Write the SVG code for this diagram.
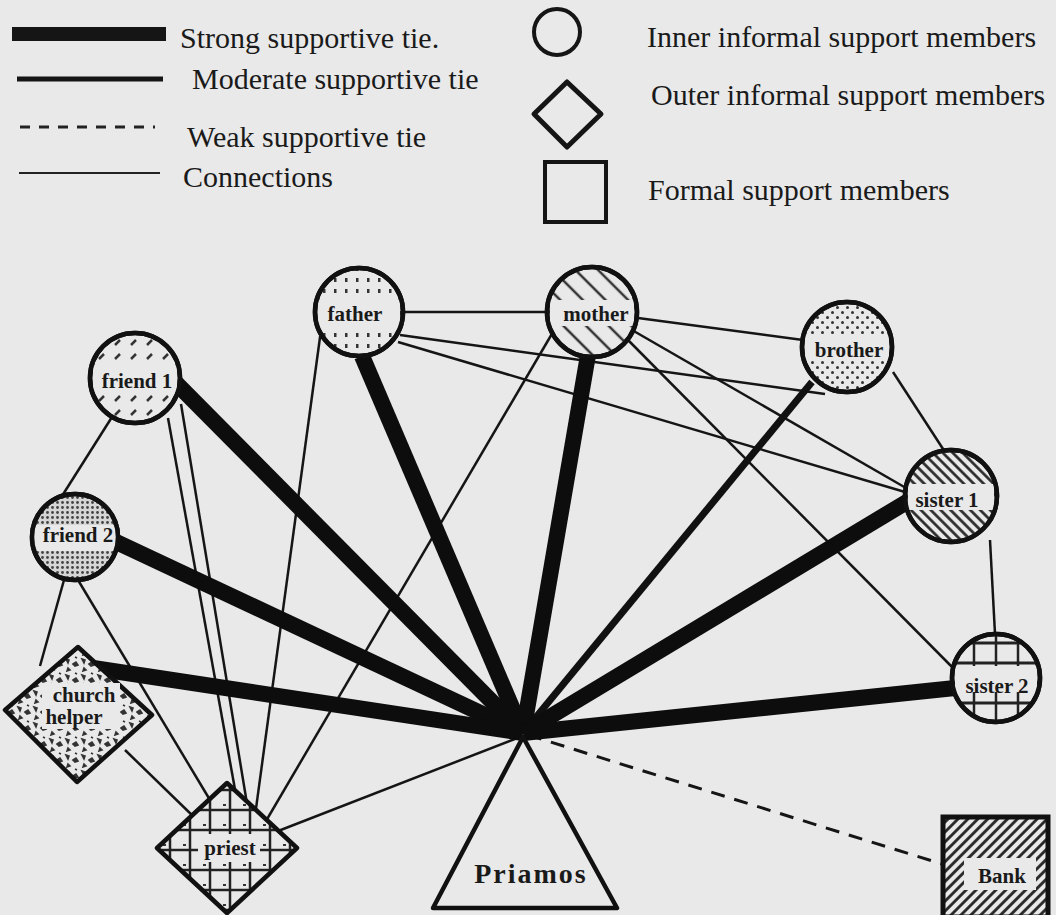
<svg xmlns="http://www.w3.org/2000/svg" width="1056" height="915" viewBox="0 0 1056 915">
<style>
.bg{fill:#e9e9e9}
.legend{font-family:"Liberation Serif",serif;font-size:30px;fill:#1a1a1a}
.lbl{font-family:"Liberation Serif",serif;font-size:21px;font-weight:bold;fill:#1a1a1a;text-anchor:middle}
.node{stroke:#111;stroke-width:4.5}
.band{fill:#e9e9e9}
.strong{stroke:#0d0d0d;stroke-width:16;stroke-linecap:butt;fill:none}
.moderate{stroke:#111;stroke-width:7;fill:none}
.conn{stroke:#151515;stroke-width:2.5;fill:none}
.weak{stroke:#151515;stroke-width:3;stroke-dasharray:14 10;fill:none}
</style>
<defs>
<pattern id="pFather" width="11" height="11" patternUnits="userSpaceOnUse"><rect width="11" height="11" fill="#e9e9e9"/><rect x="4" y="3" width="2.5" height="4" fill="#333"/></pattern>
<pattern id="pMother" width="16" height="16" patternUnits="userSpaceOnUse" patternTransform="rotate(45)"><rect width="16" height="16" fill="#e9e9e9"/><line x1="0" y1="8" x2="16" y2="8" stroke="#333" stroke-width="2.5"/></pattern>
<pattern id="pFriend1" width="16" height="14" patternUnits="userSpaceOnUse"><rect width="16" height="14" fill="#e9e9e9"/><line x1="3" y1="9" x2="8" y2="4" stroke="#333" stroke-width="2.5"/></pattern>
<pattern id="pFriend2" width="5" height="5" patternUnits="userSpaceOnUse"><rect width="5" height="5" fill="#d6d6d6"/><circle cx="2.5" cy="2.5" r="1.4" fill="#444"/></pattern>
<pattern id="pBrother" width="10" height="10" patternUnits="userSpaceOnUse"><rect width="10" height="10" fill="#e9e9e9"/><circle cx="2.5" cy="2.5" r="1.5" fill="#333"/><circle cx="7.5" cy="7.5" r="1.5" fill="#333"/></pattern>
<pattern id="pSister1" width="7" height="7" patternUnits="userSpaceOnUse" patternTransform="rotate(45)"><rect width="7" height="7" fill="#e9e9e9"/><line x1="0" y1="3.5" x2="7" y2="3.5" stroke="#222" stroke-width="2.6"/></pattern>
<pattern id="pSister2" width="22" height="20" patternUnits="userSpaceOnUse"><rect width="22" height="20" fill="#e9e9e9"/><line x1="0" y1="3" x2="22" y2="3" stroke="#222" stroke-width="3"/><line x1="6" y1="0" x2="6" y2="20" stroke="#222" stroke-width="2.5"/></pattern>
<pattern id="pChurch" width="16" height="16" patternUnits="userSpaceOnUse"><rect width="16" height="16" fill="#e9e9e9"/><path d="M2 3l3 1-1 3zM9 8l3-2 2 3-3 1zM4 12l2 2-3 1zM11 1l2 1" stroke="#333" stroke-width="1.6" fill="#333"/></pattern>
<pattern id="pPriest" width="20" height="20" patternUnits="userSpaceOnUse"><rect width="20" height="20" fill="#e9e9e9"/><line x1="0" y1="10" x2="20" y2="10" stroke="#222" stroke-width="2.5"/><line x1="10" y1="0" x2="10" y2="20" stroke="#222" stroke-width="2.5"/><rect x="3" y="4" width="3" height="2" fill="#333"/></pattern>
<pattern id="pBank" width="7" height="7" patternUnits="userSpaceOnUse" patternTransform="rotate(-45)"><rect width="7" height="7" fill="#e9e9e9"/><line x1="0" y1="3.5" x2="7" y2="3.5" stroke="#222" stroke-width="2.8"/></pattern>
</defs>
<rect class="bg" x="0" y="0" width="1056" height="915"/>

<g id="legend">
<rect x="12" y="27" width="154" height="14" fill="#151515"/>
<text class="legend" x="180" y="48">Strong supportive tie.</text>
<line x1="17" y1="79" x2="163" y2="79" stroke="#151515" stroke-width="5"/>
<text class="legend" x="192" y="89">Moderate supportive tie</text>
<line x1="20" y1="127" x2="155" y2="127" stroke="#222" stroke-width="3" stroke-dasharray="10 9"/>
<text class="legend" x="187" y="147">Weak supportive tie</text>
<line x1="19" y1="173" x2="160" y2="173" stroke="#222" stroke-width="2"/>
<text class="legend" x="183" y="187">Connections</text>
<circle cx="557" cy="32" r="23" fill="none" stroke="#151515" stroke-width="4"/>
<text class="legend" x="647" y="47">Inner informal support members</text>
<polygon points="567,82 601,114 567,147 534,114" fill="none" stroke="#151515" stroke-width="5" stroke-linejoin="round"/>
<text class="legend" x="651" y="105">Outer informal support members</text>
<rect x="545" y="162" width="61" height="60" fill="none" stroke="#151515" stroke-width="4"/>
<text class="legend" x="648" y="200">Formal support members</text>
</g>

<g id="connectors">
<line class="conn" x1="404" y1="312" x2="548" y2="312"/>
<line class="conn" x1="321" y1="330" x2="252" y2="838"/>
<line class="conn" x1="553" y1="332" x2="256" y2="838"/>
<line class="conn" x1="112" y1="417" x2="62" y2="496"/>
<line class="conn" x1="168" y1="418" x2="236" y2="795"/>
<line class="conn" x1="181" y1="404" x2="252" y2="834"/>
<line class="conn" x1="64" y1="580" x2="40" y2="666"/>
<line class="conn" x1="78" y1="580" x2="210" y2="800"/>
<line class="conn" x1="125" y1="750" x2="195" y2="818"/>
<line class="conn" x1="638" y1="318" x2="803" y2="340"/>
<line class="conn" x1="632" y1="330" x2="906" y2="488"/>
<line class="conn" x1="628" y1="340" x2="957" y2="672"/>
<line class="conn" x1="400" y1="335" x2="825" y2="394"/>
<line class="conn" x1="398" y1="342" x2="905" y2="492"/>
<line class="conn" x1="893" y1="372" x2="945" y2="452"/>
<line class="conn" x1="990" y1="540" x2="995" y2="634"/>
<line class="conn" x1="255" y1="840" x2="520" y2="737" stroke-width="3.5"/>
<line class="weak" x1="528" y1="735" x2="942" y2="864"/>
<line class="moderate" x1="523" y1="733" x2="812" y2="382"/>
<line class="strong" x1="523" y1="733" x2="176" y2="383"/>
<line class="strong" x1="523" y1="733" x2="362" y2="356"/>
<line class="strong" x1="523" y1="733" x2="588" y2="355"/>
<line class="strong" x1="523" y1="733" x2="910" y2="500"/>
<line class="strong" x1="523" y1="733" x2="112" y2="540"/>
<line class="strong" x1="523" y1="733" x2="80" y2="666"/>
<line class="strong" x1="523" y1="733" x2="955" y2="688"/>
</g>

<g id="node-father">
<circle class="node" cx="359" cy="312" r="44" fill="url(#pFather)"/>
<rect class="band" x="318" y="300" width="82" height="26"/>
<circle cx="359" cy="312" r="44" fill="none" class="node"/>
<text class="lbl" x="355" y="321">father</text>
</g>
<g id="node-mother">
<circle class="node" cx="592" cy="312" r="45" fill="url(#pMother)"/>
<rect class="band" x="550" y="300" width="84" height="26"/>
<circle cx="592" cy="312" r="45" fill="none" class="node"/>
<text class="lbl" x="596" y="321">mother</text>
</g>
<g id="node-friend1">
<circle class="node" cx="135" cy="378" r="45" fill="url(#pFriend1)"/>
<rect class="band" x="93" y="366" width="84" height="26"/>
<circle cx="135" cy="378" r="45" fill="none" class="node"/>
<text class="lbl" x="137" y="388">friend 1</text>
</g>
<g id="node-friend2">
<circle class="node" cx="75" cy="537" r="43" fill="url(#pFriend2)"/>
<rect class="band" x="34" y="525" width="82" height="26"/>
<circle cx="75" cy="537" r="43" fill="none" class="node"/>
<text class="lbl" x="78" y="542">friend 2</text>
</g>
<g id="node-brother">
<circle class="node" cx="847" cy="347" r="45" fill="url(#pBrother)"/>
<rect class="band" x="805" y="335" width="84" height="26"/>
<circle cx="847" cy="347" r="45" fill="none" class="node"/>
<text class="lbl" x="849" y="357">brother</text>
</g>
<g id="node-sister1">
<circle class="node" cx="951" cy="496" r="46" fill="url(#pSister1)"/>
<rect class="band" x="908" y="484" width="86" height="26"/>
<circle cx="951" cy="496" r="46" fill="none" class="node"/>
<text class="lbl" x="947" y="507">sister 1</text>
</g>
<g id="node-sister2">
<circle class="node" cx="996" cy="678" r="44" fill="url(#pSister2)"/>
<rect class="band" x="955" y="666" width="82" height="26"/>
<circle cx="996" cy="678" r="44" fill="none" class="node"/>
<text class="lbl" x="997" y="693">sister 2</text>
</g>
<g id="node-church-helper">
<polygon class="node" points="78,647 152,715 77,782 5,710" fill="url(#pChurch)" stroke-width="5.5" stroke-linejoin="round"/>
<rect class="band" x="42" y="683" width="78" height="46"/>
<text class="lbl" x="84" y="702">church</text>
<text class="lbl" x="74" y="724">helper</text>
</g>
<g id="node-priest">
<polygon class="node" points="227,783 297,848 227,913 157,848" fill="url(#pPriest)" stroke-width="5.5" stroke-linejoin="round"/>
<rect class="band" x="198" y="834" width="62" height="28"/>
<text class="lbl" x="230" y="855">priest</text>
</g>
<g id="node-priamos">
<polygon points="523,737 617,908 433,908" fill="#e9e9e9" stroke="#111" stroke-width="4.5" stroke-linejoin="round"/>
<text x="531" y="883" font-family="Liberation Serif,serif" font-size="28" font-weight="bold" letter-spacing="2" text-anchor="middle" fill="#1a1a1a">Priamos</text>
</g>
<g id="node-bank">
<rect x="943" y="817" width="105" height="100" fill="url(#pBank)" stroke="#111" stroke-width="5"/>
<rect class="band" x="964" y="858" width="72" height="32"/>
<text class="lbl" x="1002" y="883" font-weight="normal" font-size="24">Bank</text>
</g>
</svg>
